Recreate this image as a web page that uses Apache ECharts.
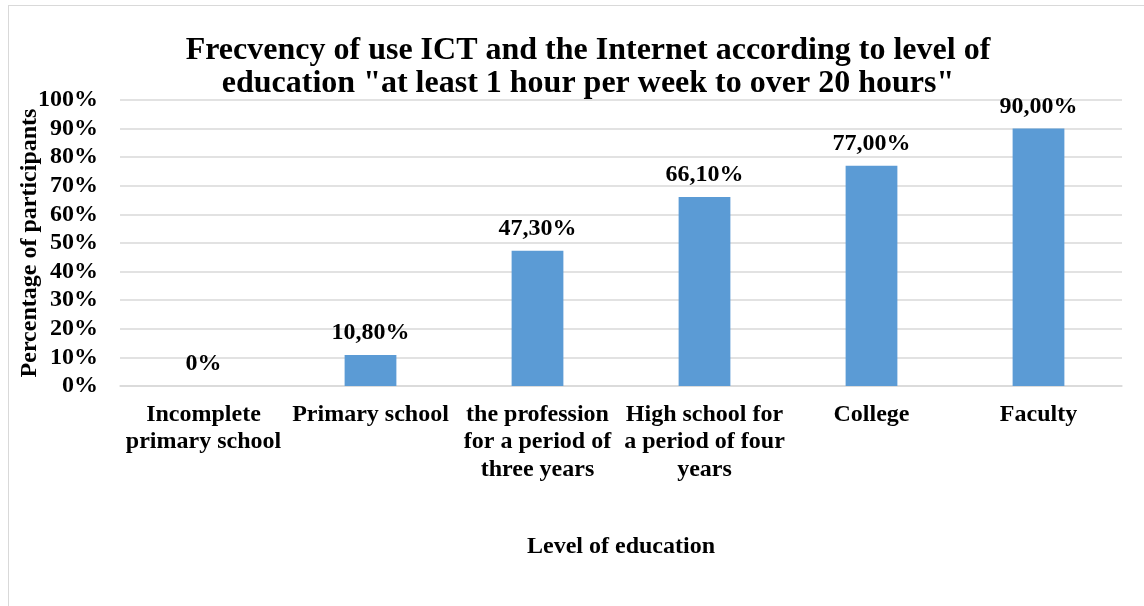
<!DOCTYPE html>
<html>
<head>
<meta charset="utf-8">
<script src="https://cdn.jsdelivr.net/npm/echarts@6/dist/echarts.min.js"></script>
<style>
html,body{margin:0;padding:0;background:#fff;}
#frame{position:absolute;left:8px;top:5px;width:1160px;height:620px;border:1px solid #d9d9d9;box-sizing:border-box;}
#chart{position:absolute;left:0;top:0;width:1144px;height:606px;}
</style>
</head>
<body>
<div id="frame"></div>
<div id="chart"></div>
<script>
const categories = [
  "Incomplete\nprimary school",
  "Primary school",
  "the profession\nfor a period of\nthree years",
  "High school for\na period of four\nyears",
  "College",
  "Faculty"
];
const values = [0, 10.8, 47.3, 66.1, 77.0, 90.0];
const titleText = 'Frecvency of use ICT and the Internet according to level of\neducation "at least 1 hour per week to over 20 hours"';
const yAxisName = "Percentage of participants";
const xAxisName = "Level of education";

const FONT = '"Liberation Serif", "Times New Roman", serif';
function fmtLabel(v){
  if (v === 0) return '0%';
  return v.toFixed(2).replace('.', ',') + '%';
}
const chart = echarts.init(document.getElementById('chart'), null, {renderer:'canvas'});
chart.setOption({
  animation:false,
  backgroundColor:'transparent',
  title:{
    text:titleText,
    left:583, top:29, textAlign:'center',
    textStyle:{fontFamily:FONT, fontWeight:'bold', fontSize:32, color:'#000', lineHeight:33}
  },
  grid:{left:120, right:22, top:100, bottom:220, containLabel:false, outerBoundsMode:'none'},
  xAxis:{
    type:'category',
    data:categories,
    name:xAxisName,
    nameLocation:'middle',
    nameGap:149,
    nameMoveOverlap:false,
    nameTextStyle:{fontFamily:FONT, fontWeight:'bold', fontSize:24, color:'#000'},
    axisLine:{show:true, lineStyle:{color:'#d9d9d9', width:1.5}},
    axisTick:{show:false},
    axisLabel:{interval:0, fontFamily:FONT, fontWeight:'bold', fontSize:24, color:'#000', lineHeight:27.5, margin:15}
  },
  yAxis:{
    type:'value',
    min:0, max:100, interval:10,
    name:yAxisName,
    nameLocation:'middle',
    nameGap:78,
    nameMoveOverlap:false,
    nameRotate:90,
    nameTextStyle:{fontFamily:FONT, fontWeight:'bold', fontSize:24, color:'#000'},
    axisLine:{show:false},
    axisTick:{show:false},
    axisLabel:{formatter:'{value}%', fontFamily:FONT, fontWeight:'bold', fontSize:24, color:'#000', margin:22},
    splitLine:{lineStyle:{color:'#d9d9d9', width:1.5}}
  },
  series:[{
    type:'bar',
    data:values,
    barWidth:'31%',
    itemStyle:{color:'#5b9bd5'},
    label:{
      show:true, position:'top', distance:10,
      fontFamily:FONT, fontWeight:'bold', fontSize:24, color:'#000',
      formatter:p=>fmtLabel(p.value)
    }
  }]
});
</script>
</body>
</html>
